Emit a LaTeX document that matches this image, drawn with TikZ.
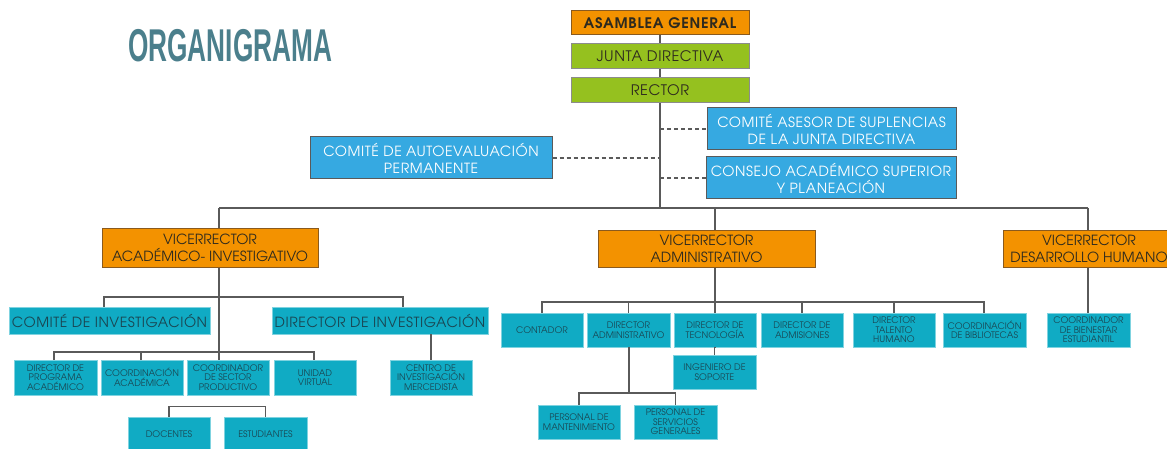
\documentclass[tikz,border=0pt]{standalone}
\usepackage{fontspec}
\setmainfont{texgyreadventor}[Extension=.otf,UprightFont=*-regular,BoldFont=*-bold,ItalicFont=*-italic,BoldItalicFont=*-bolditalic]
\newfontfamily\titlefont{Liberation Sans}
\definecolor{orng}{HTML}{F39200}
\definecolor{orngdark}{HTML}{8A5A1E}
\definecolor{grn}{HTML}{95C11F}
\definecolor{grnline}{HTML}{8C8C8C}
\definecolor{blu}{HTML}{36A9E1}
\definecolor{bluline}{HTML}{5A5A5A}
\definecolor{cyn}{HTML}{10ABC4}
\definecolor{cynline}{HTML}{7FD3E0}
\definecolor{ttl}{HTML}{4B7F8C}
\definecolor{ln}{HTML}{5A5A5A}
\definecolor{txtdark}{HTML}{2E2A1E}
\definecolor{txtteal}{HTML}{1A4652}
\tikzset{
  box/.style={rectangle, inner sep=0pt, align=center},
  orangebox/.style={box, fill=orng, draw=orngdark, line width=1pt, text=txtdark},
  greenbox/.style={box, fill=grn, draw=grnline, line width=1pt, text=txtdark},
  bluebox/.style={box, fill=blu, draw=bluline, line width=1pt, text=white},
  cyanbox/.style={box, fill=cyn, draw=cynline, line width=0.8pt, text=txtteal},
  bigfont/.style={font=\fontsize{14}{17}\selectfont},
  widefont/.style={font=\fontsize{14}{17}\selectfont\addfontfeature{LetterSpace=4}},
  topfont/.style={font=\fontsize{14.5}{16}\selectfont\addfontfeature{LetterSpace=4}},
  smallfont/.style={font=\fontsize{9}{9.5}\selectfont},
  conn/.style={draw=ln, line width=1.7pt},
  dashconn/.style={draw=ln, line width=1.4pt, dash pattern=on 4pt off 3pt},
}
\begin{document}
\begin{tikzpicture}[x=1pt,y=-1pt]
\useasboundingbox (0,0) rectangle (1167,449);
\clip (0,0) rectangle (1167,449);
\fill[white] (0,0) rectangle (1167,449);

% title
\node[anchor=base west, inner sep=0pt, text=ttl] (title) at (128,62)
  {\scalebox{0.57}[1]{\titlefont\bfseries\fontsize{46}{46}\selectfont ORGANIGRAMA}};

% top
\node[orangebox, minimum width=178pt, minimum height=24pt, font=\bfseries\fontsize{14.5}{16}\selectfont\addfontfeature{LetterSpace=5}] (asamblea) at (660,23) {ASAMBLEA GENERAL};
\node[greenbox, topfont, minimum width=178pt, minimum height=25pt] (junta) at (660,56.5) {JUNTA DIRECTIVA};
\node[greenbox, topfont, minimum width=178pt, minimum height=25pt] (rector) at (660,90.5) {RECTOR};

\node[bluebox, widefont, minimum width=249pt, minimum height=42pt] (asesor) at (831.5,129) {COMITÉ ASESOR DE SUPLENCIAS\\DE LA JUNTA DIRECTIVA};
\node[bluebox, widefont, minimum width=250pt, minimum height=42pt] (consejo) at (831,178) {CONSEJO ACADÉMICO SUPERIOR\\Y PLANEACIÓN};
\node[bluebox, widefont, minimum width=242pt, minimum height=42pt] (autoeval) at (431,158) {COMITÉ DE AUTOEVALUACIÓN\\PERMANENTE};

% vicerrectores
\node[orangebox, bigfont, minimum width=216pt, minimum height=38pt] (viceAcad) at (210,248) {VICERRECTOR\\ACADÉMICO- INVESTIGATIVO};
\node[orangebox, bigfont, minimum width=217pt, minimum height=36pt] (viceAdm) at (706.5,249) {VICERRECTOR\\ADMINISTRATIVO};
\node[orangebox, bigfont, minimum width=172pt, minimum height=36pt] (viceDH) at (1089,249) {VICERRECTOR\\DESARROLLO HUMANO};

% academic branch
\node[cyanbox, widefont, minimum width=201pt, minimum height=27pt] (comInv) at (109.5,320.5) {COMITÉ DE INVESTIGACIÓN};
\node[cyanbox, widefont, minimum width=216pt, minimum height=27pt] (dirInv) at (380,320.5) {DIRECTOR DE INVESTIGACIÓN};
\node[cyanbox, smallfont, minimum width=83pt, minimum height=35pt] (dirProg) at (55.5,377.5) {DIRECTOR DE\\PROGRAMA\\ACADÉMICO};
\node[cyanbox, smallfont, minimum width=82pt, minimum height=35pt] (coordAcad) at (142,377.5) {COORDINACIÓN\\ACADÉMICA};
\node[cyanbox, smallfont, minimum width=82pt, minimum height=35pt] (coordSector) at (228,377.5) {COORDINADOR\\DE SECTOR\\PRODUCTIVO};
\node[cyanbox, smallfont, minimum width=82pt, minimum height=35pt] (unidad) at (315,377.5) {UNIDAD\\VIRTUAL};
\node[cyanbox, smallfont, minimum width=82pt, minimum height=35pt] (centro) at (431,377.5) {CENTRO DE\\INVESTIGACIÓN\\MERCEDISTA};
\node[cyanbox, smallfont, minimum width=82pt, minimum height=35pt] (docentes) at (169,434.5) {DOCENTES};
\node[cyanbox, smallfont, minimum width=83pt, minimum height=35pt] (estudiantes) at (265.5,434.5) {ESTUDIANTES};

% administrative branch
\node[cyanbox, smallfont, minimum width=82pt, minimum height=34pt] (contador) at (542,330) {CONTADOR};
\node[cyanbox, smallfont, minimum width=83pt, minimum height=34pt] (dirAdm) at (628.5,330) {DIRECTOR\\ADMINISTRATIVO};
\node[cyanbox, smallfont, minimum width=82pt, minimum height=34pt] (dirTec) at (715,330) {DIRECTOR DE\\TECNOLOGÍA};
\node[cyanbox, smallfont, minimum width=82pt, minimum height=34pt] (dirAdmis) at (802,330) {DIRECTOR DE\\ADMISIONES};
\node[cyanbox, smallfont, minimum width=82pt, minimum height=34pt] (talento) at (894,330) {DIRECTOR\\TALENTO\\HUMANO};
\node[cyanbox, smallfont, minimum width=83pt, minimum height=34pt] (biblio) at (984.5,330) {COORDINACIÓN\\DE BIBLIOTECAS};
\node[cyanbox, smallfont, minimum width=83pt, minimum height=34pt] (bienestar) at (1088.5,330) {COORDINADOR\\DE BIENESTAR\\ESTUDIANTIL};
\node[cyanbox, smallfont, minimum width=83pt, minimum height=34pt] (ingeniero) at (714.5,372) {INGENIERO DE\\SOPORTE};
\node[cyanbox, smallfont, minimum width=82pt, minimum height=34pt] (mant) at (579,422) {PERSONAL DE\\MANTENIMIENTO};
\node[cyanbox, smallfont, minimum width=83pt, minimum height=34pt] (serv) at (675.5,422) {PERSONAL DE\\SERVICIOS\\GENERALES};

% bus coordinates
\coordinate (bus) at (660,208);
\coordinate (bA) at (219,208);
\coordinate (bM) at (715,208);
\coordinate (bD) at (1088,208);
\coordinate (acadLow) at (219,352);
\coordinate (ci) at (104,297);
\coordinate (di) at (403,297);
\coordinate (l1) at (54,352);
\coordinate (l2) at (141,352);
\coordinate (l4) at (314,352);
\coordinate (a1) at (542,302);
\coordinate (aM) at (715,302);
\coordinate (a6) at (984,302);
\coordinate (ad) at (629,393);

% connectors top
\draw[conn] (asamblea.south) -- (junta.north);
\draw[conn] (junta.south) -- (rector.north);
\draw[conn] (rector.south) -- (bus);
\draw[dashconn] (asesor.west -| bus) -- (asesor.west);
\draw[dashconn] (autoeval.east) -- (autoeval.east -| bus);
\draw[dashconn] (consejo.west -| bus) -- (consejo.west);
\draw[conn] (bA) -- (bD);
\draw[conn] (bA) -- (bA |- viceAcad.north);
\draw[conn] (bM) -- (bM |- viceAdm.north);
\draw[conn] (bD) -- (bD |- viceDH.north);

% academic connectors
\draw[conn] (bA |- viceAcad.south) -- (acadLow);
\draw[conn] (ci |- comInv.north) -- (ci) -- (di) -- (di |- dirInv.north);
\draw[conn] (l1 |- dirProg.north) -- (l1) -- (l4) -- (l4 |- unidad.north);
\draw[conn] (l2) -- (l2 |- coordAcad.north);
\draw[conn] (acadLow) -- (acadLow |- coordSector.north);
\draw[conn] (dirInv.south -| centro.north) -- (centro.north);
\draw[conn] (docentes.north) -- ++(0,-10) -| (estudiantes.north);

% administrative connectors
\draw[conn] (bM |- viceAdm.south) -- (aM) -- (aM |- dirTec.north);
\draw[conn] (contador.north) -- (contador.north |- a1) -- (a6) -- (a6 |- biblio.north);
\draw[conn] (dirAdm.north) -- (dirAdm.north |- a1);
\draw[conn] (dirAdmis.north) -- (dirAdmis.north |- a1);
\draw[conn] (talento.north) -- (talento.north |- a1);
\draw[conn] (dirTec.south) -- (dirTec.south -| ingeniero.north) -- (ingeniero.north);
\draw[conn] (dirAdm.south -| ad) -- (ad);
\draw[conn] (mant.north) -- (mant.north |- ad) -- (serv.north |- ad) -- (serv.north);
\draw[conn] (viceDH.south -| bD) -- (bienestar.north -| bD);
\end{tikzpicture}
\end{document}
